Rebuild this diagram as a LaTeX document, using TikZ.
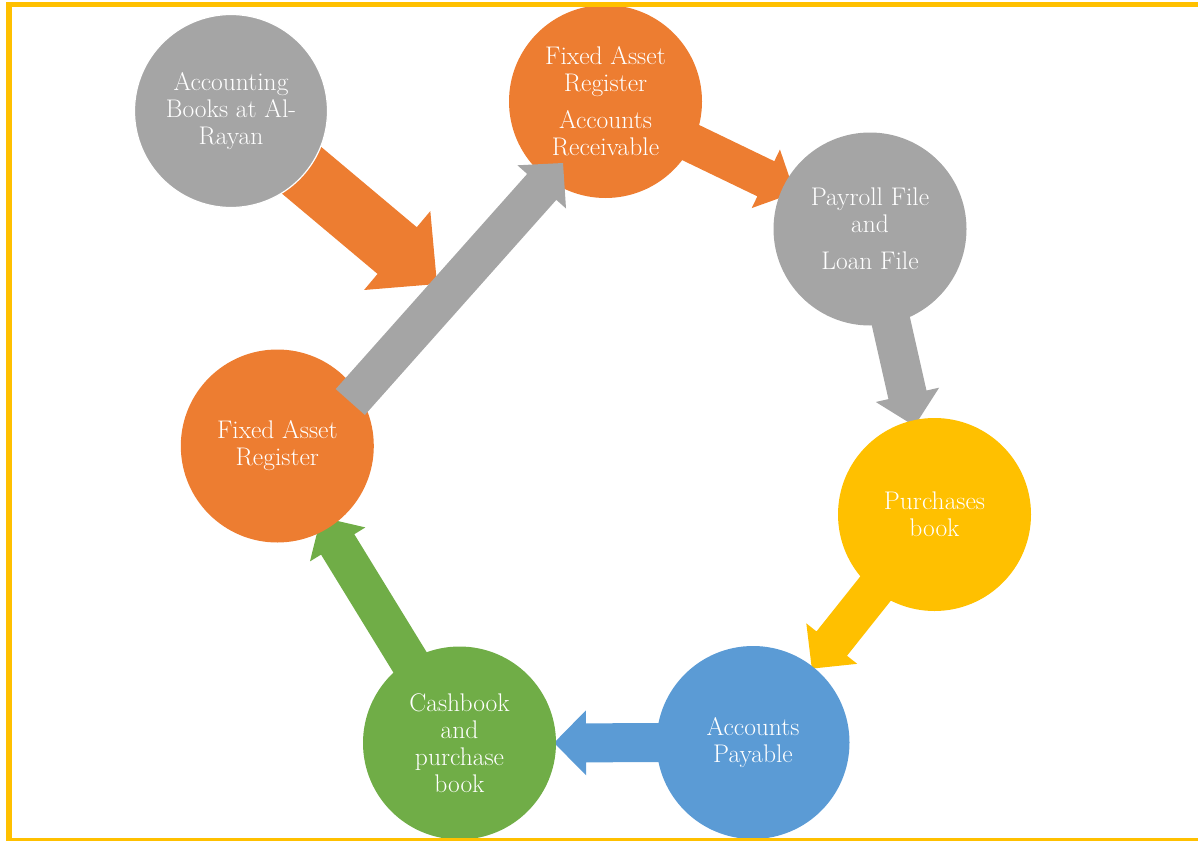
\documentclass[tikz,border=0pt]{standalone}
\usepackage{tikz}
\usetikzlibrary{calc}
\definecolor{accgray}{HTML}{A5A5A5}
\definecolor{accorange}{HTML}{ED7D31}
\definecolor{accyellow}{HTML}{FFC000}
\definecolor{accblue}{HTML}{5B9BD5}
\definecolor{accgreen}{HTML}{70AD47}
\pgfdeclarelayer{under}
\pgfsetlayers{under,main}
\tikzset{ball/.style={circle, minimum size=193pt, inner sep=0pt, text=white, align=center,
                      font=\fontsize{25.5}{27}\selectfont},
         % block arrow as one polygon: half shaft width, half head width, head length
         flow/.style n args={3}{to path={
           ($(\tikztostart)!#1!90:(\tikztotarget)$)
           -- ($($(\tikztotarget)!#3!(\tikztostart)$)!#1!-90:(\tikztostart)$)
           -- ($($(\tikztotarget)!#3!(\tikztostart)$)!#2!-90:(\tikztostart)$)
           -- (\tikztotarget)
           -- ($($(\tikztotarget)!#3!(\tikztostart)$)!#2!90:(\tikztostart)$)
           -- ($($(\tikztotarget)!#3!(\tikztostart)$)!#1!90:(\tikztostart)$)
           -- ($(\tikztostart)!#1!-90:(\tikztotarget)$) -- cycle}},
         thin flow/.style={flow={19.5pt}{32.5pt}{32pt}},
         fat flow/.style={flow={30.5pt}{51.5pt}{52pt}}}

\begin{document}
\begin{tikzpicture}[x=1pt,y=-1pt]
  \useasboundingbox (0,0) rectangle (1198,840);
  % the books, clockwise from the top
  \node[ball, fill=accgray, draw=white, line width=1.2pt]
                              (books)      at (231,111)     {Accounting\\Books at Al-\\Rayan};
  \node[ball, fill=accorange] (register)   at (605.5,101.5) {Fixed Asset\\Register\\[10pt]Accounts\\Receivable};
  \node[ball, fill=accgray]   (payroll)    at (870,229)     {Payroll File\\and\\[10pt]Loan File};
  \node[ball, fill=accyellow] (purchases)  at (934.5,514.5) {Purchases\\book};
  \node[ball, fill=accblue]   (payable)    at (753,742.5)   {Accounts\\Payable};
  \node[ball, fill=accgreen]  (cashbook)   at (459.5,743)   {Cashbook\\and\\purchase\\book};
  \node[ball, fill=accorange] (fixedasset) at (277.3,446)   {Fixed Asset\\Register};
  \coordinate (aend) at (437,284);

  \begin{pgfonlayer}{under}
   \fill[accorange, fat flow] (books.center) to (aend);
   \fill[accorange, thin flow] (register.center) to ($(register.center)!210pt!(payroll.center)$);
   \fill[accgray, thin flow] (payroll.center) to ($(payroll.center)!202pt!(purchases.center)$);
   \fill[accyellow, thin flow] (purchases.center) to ($(purchases.center)!197pt!(payable.center)$);
   \fill[accblue, thin flow] (payable.center) to ($(payable.center)!199pt!(cashbook.center)$);
   \fill[accgreen, thin flow] (cashbook.center) to ($(cashbook.center)!265pt!(fixedasset.center)$);
  \end{pgfonlayer}
  \fill[accgray, thin flow] ($(fixedasset.center)+(73,-44)$) to ($(register.center)+(-42.5,61.5)$);

  % frame
  \draw[accyellow, line width=5.5pt] (9,4.3) rectangle (1206,840.5);
\end{tikzpicture}
\end{document}
